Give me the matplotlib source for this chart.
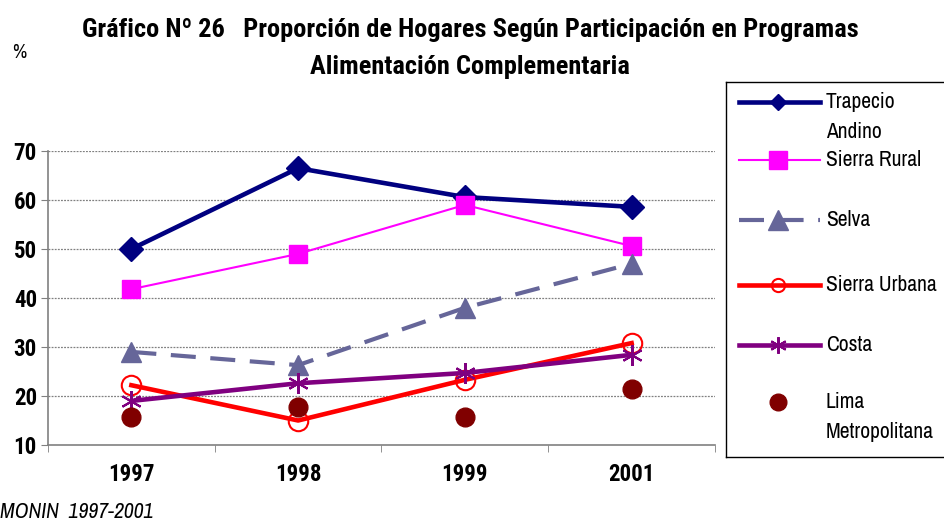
import matplotlib.pyplot as plt
import numpy as np

NEGRITA = ['Roboto Condensed', 'Open Sans Condensed', 'DejaVu Sans']
NORMAL = ['Archivo Narrow', 'DejaVu Sans']
plt.rcParams['font.family'] = NORMAL

anios = ['1997', '1998', '1999', '2001']
trapecio_andino = [50.0, 66.5, 60.6, 58.6]
sierra_rural = [41.8, 49.0, 59.0, 50.6]
selva = [29.0, 26.3, 38.0, 47.0]
sierra_urbana = [22.2, 15.0, 23.3, 30.8]
costa = [19.0, 22.6, 24.7, 28.4]
lima_metropolitana = [15.8, 17.8, 15.8, 21.5]

# (etiqueta, datos, estilo de linea, tamaño de marcador en la leyenda)
estilos = [
    ('Trapecio\nAndino', trapecio_andino,
     dict(color='#000080', lw=3.3, marker='D', ms=12.5, mfc='#000080', mec='#000080'), 8.5),
    ('Sierra Rural', sierra_rural,
     dict(color='#FF00FF', lw=1.5, marker='s', ms=13, mfc='#FF00FF', mec='#FF00FF'), 13),
    ('Selva', selva,
     dict(color='#666699', lw=3.0, ls=(0, (6, 3.5)), marker='^', ms=15,
          mfc='#666699', mec='#666699'), 14),
    ('Sierra Urbana', sierra_urbana,
     dict(color='#FF0000', lw=3.3, marker='o', ms=14, mfc='none', mec='#FF0000', mew=1.5), 9.5),
    ('Costa', costa,
     dict(color='#800080', lw=3.3, marker=(6, 2, 0), ms=15, mec='#800080', mew=1.5), 12),
    ('Lima\nMetropolitana', lima_metropolitana,
     dict(color='#800000', lw=0, marker='o', ms=13.5, mfc='#800000', mec='#800000'), 12),
]

fig = plt.figure(figsize=(9.45, 5.22), dpi=100)
ax = fig.add_axes([48 / 945, 1 - 445 / 522, (715 - 48) / 945, 294 / 522])

x = np.arange(len(anios))
for nombre, valores, kw, _ in estilos:
    if nombre.startswith('Lima'):
        ax.plot(x, valores, ls='none', marker=kw['marker'], ms=kw['ms'], mfc=kw['mfc'],
                mec=kw['mec'], zorder=3)
    else:
        ax.plot(x, valores, zorder=3, **kw)

ax.set_xlim(-0.5, len(anios) - 0.5)
ax.set_ylim(10, 70)
ax.set_yticks(range(10, 71, 10))
ax.set_yticklabels([str(v) for v in range(10, 71, 10)], fontsize=16.5, fontweight='bold',
                   family=NEGRITA)
ax.set_xticks(x)
ax.set_xticklabels(anios, fontsize=16.5, fontweight='bold', family=NEGRITA)
ax.set_xticks(np.arange(-0.5, len(anios)), minor=True)
ax.tick_params(axis='x', which='major', length=0, pad=13)
ax.tick_params(axis='x', which='minor', length=5, color='#808080')
ax.tick_params(axis='y', length=5, color='#808080', pad=3)
for v in range(20, 71, 10):
    ax.axhline(v, color='#808080', lw=0.9, ls=(0, (1.5, 1)), zorder=1)
for lado in ['top', 'right']:
    ax.spines[lado].set_visible(False)
for lado in ['left', 'bottom']:
    ax.spines[lado].set_color('#808080')
    ax.spines[lado].set_linewidth(1.2)

fig.text(470 / 945, 1 - 30 / 522,
         'Gráfico Nº 26   Proporción de Hogares Según Participación en Programas',
         ha='center', va='center', fontsize=19, fontweight='bold', family=NEGRITA)
fig.text(470 / 945, 1 - 67 / 522, 'Alimentación Complementaria',
         ha='center', va='center', fontsize=19, fontweight='bold', family=NEGRITA)
fig.text(12 / 945, 1 - 52 / 522, '%', ha='left', va='center', fontsize=14)
fig.text(0, 1 - 512 / 522, 'MONIN  1997-2001', ha='left', va='center',
         fontsize=15.5, style='italic')

# leyenda dibujada a mano para copiar el espaciado del original
lg = fig.add_axes([726 / 945, 1 - 457 / 522, 240 / 945, 375 / 522])
lg.set_xlim(726, 966)
lg.set_ylim(457, 82)
lg.set_xticks([])
lg.set_yticks([])
for lado in ['top', 'right', 'bottom', 'left']:
    lg.spines[lado].set_linewidth(1.0)
    lg.spines[lado].set_color('black')
filas = [102, 160, 220, 285, 345, 402]
for (nombre, _, kw, ms_leg), yf in zip(estilos, filas):
    if nombre.startswith('Lima'):
        lg.plot([778], [yf], ls='none', marker='o', ms=ms_leg,
                mfc=kw['mfc'], mec=kw['mec'])
    else:
        lg.plot([739, 820], [yf, yf], ls=kw.get('ls', '-'), color=kw['color'], lw=kw['lw'])
        lg.plot([778], [yf], ls='none', marker=kw['marker'], ms=ms_leg,
                mfc=kw.get('mfc', kw['color']), mec=kw['mec'], mew=kw.get('mew', 1))
    for i, t in enumerate(nombre.split('\n')):
        lg.text(826, yf + i * 30, t, ha='left', va='center', fontsize=15.5)

fig.savefig('out.png', dpi=100)
